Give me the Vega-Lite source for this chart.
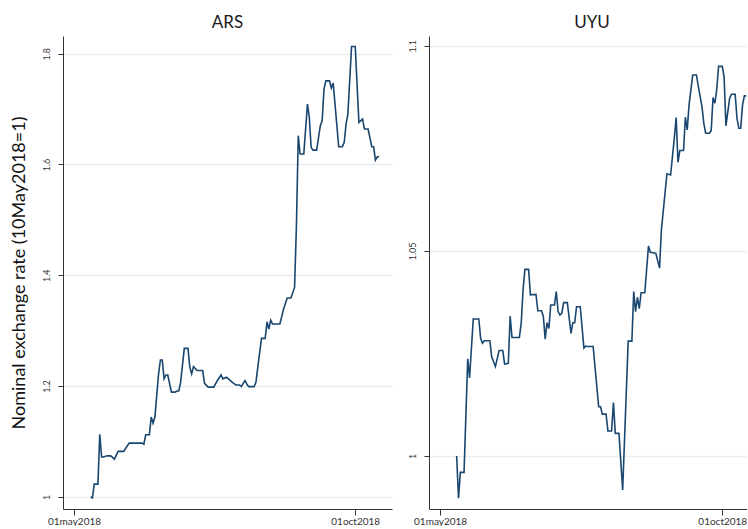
{
  "$schema": "https://vega.github.io/schema/vega-lite/v6.json",
  "padding": {"left": 10, "top": 14, "right": 0, "bottom": 0},
  "spacing": 16,
  "config": {
    "view": {"stroke": null},
    "font": "Lato",
    "title": {"font": "Lato", "fontSize": 17, "fontWeight": "normal", "color": "#1a1a1a", "offset": 4},
    "axis": {
      "labelFont": "Lato",
      "titleFont": "Lato",
      "domainColor": "#333333",
      "tickColor": "#333333",
      "labelColor": "#333333",
      "gridColor": "#e6eff1",
      "gridWidth": 1.5
    }
  },
  "datasets": {
    "ars": [
      {"date": "2018-05-10", "rate": 1.000},
      {"date": "2018-05-11", "rate": 0.998},
      {"date": "2018-05-12", "rate": 1.023},
      {"date": "2018-05-14", "rate": 1.023},
      {"date": "2018-05-15", "rate": 1.113},
      {"date": "2018-05-16", "rate": 1.072},
      {"date": "2018-05-17", "rate": 1.072},
      {"date": "2018-05-19", "rate": 1.074},
      {"date": "2018-05-21", "rate": 1.074},
      {"date": "2018-05-23", "rate": 1.068},
      {"date": "2018-05-25", "rate": 1.082},
      {"date": "2018-05-28", "rate": 1.082},
      {"date": "2018-05-31", "rate": 1.097},
      {"date": "2018-06-04", "rate": 1.097},
      {"date": "2018-06-07", "rate": 1.097},
      {"date": "2018-06-08", "rate": 1.095},
      {"date": "2018-06-09", "rate": 1.112},
      {"date": "2018-06-11", "rate": 1.112},
      {"date": "2018-06-12", "rate": 1.144},
      {"date": "2018-06-13", "rate": 1.133},
      {"date": "2018-06-14", "rate": 1.144},
      {"date": "2018-06-16", "rate": 1.222},
      {"date": "2018-06-17", "rate": 1.247},
      {"date": "2018-06-18", "rate": 1.247},
      {"date": "2018-06-19", "rate": 1.213},
      {"date": "2018-06-20", "rate": 1.220},
      {"date": "2018-06-21", "rate": 1.220},
      {"date": "2018-06-23", "rate": 1.189},
      {"date": "2018-06-25", "rate": 1.189},
      {"date": "2018-06-26", "rate": 1.191},
      {"date": "2018-06-27", "rate": 1.191},
      {"date": "2018-06-28", "rate": 1.207},
      {"date": "2018-06-30", "rate": 1.268},
      {"date": "2018-07-02", "rate": 1.268},
      {"date": "2018-07-03", "rate": 1.234},
      {"date": "2018-07-04", "rate": 1.222},
      {"date": "2018-07-05", "rate": 1.235},
      {"date": "2018-07-07", "rate": 1.228},
      {"date": "2018-07-10", "rate": 1.228},
      {"date": "2018-07-11", "rate": 1.205},
      {"date": "2018-07-13", "rate": 1.198},
      {"date": "2018-07-16", "rate": 1.198},
      {"date": "2018-07-18", "rate": 1.210},
      {"date": "2018-07-20", "rate": 1.220},
      {"date": "2018-07-21", "rate": 1.213},
      {"date": "2018-07-23", "rate": 1.216},
      {"date": "2018-07-24", "rate": 1.213},
      {"date": "2018-07-26", "rate": 1.207},
      {"date": "2018-07-28", "rate": 1.202},
      {"date": "2018-07-30", "rate": 1.202},
      {"date": "2018-07-31", "rate": 1.199},
      {"date": "2018-08-02", "rate": 1.210},
      {"date": "2018-08-03", "rate": 1.204},
      {"date": "2018-08-04", "rate": 1.199},
      {"date": "2018-08-07", "rate": 1.199},
      {"date": "2018-08-08", "rate": 1.207},
      {"date": "2018-08-09", "rate": 1.234},
      {"date": "2018-08-11", "rate": 1.286},
      {"date": "2018-08-13", "rate": 1.286},
      {"date": "2018-08-14", "rate": 1.316},
      {"date": "2018-08-15", "rate": 1.303},
      {"date": "2018-08-16", "rate": 1.319},
      {"date": "2018-08-17", "rate": 1.312},
      {"date": "2018-08-21", "rate": 1.312},
      {"date": "2018-08-23", "rate": 1.339},
      {"date": "2018-08-25", "rate": 1.359},
      {"date": "2018-08-27", "rate": 1.359},
      {"date": "2018-08-29", "rate": 1.378},
      {"date": "2018-08-30", "rate": 1.490},
      {"date": "2018-08-31", "rate": 1.652},
      {"date": "2018-09-01", "rate": 1.619},
      {"date": "2018-09-03", "rate": 1.619},
      {"date": "2018-09-05", "rate": 1.709},
      {"date": "2018-09-06", "rate": 1.685},
      {"date": "2018-09-07", "rate": 1.631},
      {"date": "2018-09-08", "rate": 1.626},
      {"date": "2018-09-10", "rate": 1.626},
      {"date": "2018-09-12", "rate": 1.670},
      {"date": "2018-09-13", "rate": 1.679},
      {"date": "2018-09-14", "rate": 1.736},
      {"date": "2018-09-15", "rate": 1.751},
      {"date": "2018-09-17", "rate": 1.751},
      {"date": "2018-09-18", "rate": 1.738},
      {"date": "2018-09-19", "rate": 1.747},
      {"date": "2018-09-20", "rate": 1.709},
      {"date": "2018-09-22", "rate": 1.632},
      {"date": "2018-09-24", "rate": 1.632},
      {"date": "2018-09-25", "rate": 1.640},
      {"date": "2018-09-26", "rate": 1.673},
      {"date": "2018-09-27", "rate": 1.691},
      {"date": "2018-09-29", "rate": 1.813},
      {"date": "2018-10-01", "rate": 1.813},
      {"date": "2018-10-03", "rate": 1.676},
      {"date": "2018-10-05", "rate": 1.682},
      {"date": "2018-10-06", "rate": 1.664},
      {"date": "2018-10-08", "rate": 1.664},
      {"date": "2018-10-10", "rate": 1.632},
      {"date": "2018-10-11", "rate": 1.632},
      {"date": "2018-10-12", "rate": 1.608},
      {"date": "2018-10-13", "rate": 1.614},
      {"date": "2018-10-14", "rate": 1.614}
    ],
    "uyu": [
      {"date": "2018-05-10", "rate": 1.0000},
      {"date": "2018-05-11", "rate": 0.9897},
      {"date": "2018-05-12", "rate": 0.9960},
      {"date": "2018-05-14", "rate": 0.9960},
      {"date": "2018-05-16", "rate": 1.0237},
      {"date": "2018-05-17", "rate": 1.0190},
      {"date": "2018-05-19", "rate": 1.0334},
      {"date": "2018-05-22", "rate": 1.0334},
      {"date": "2018-05-23", "rate": 1.0287},
      {"date": "2018-05-24", "rate": 1.0275},
      {"date": "2018-05-25", "rate": 1.0281},
      {"date": "2018-05-28", "rate": 1.0281},
      {"date": "2018-05-29", "rate": 1.0242},
      {"date": "2018-05-31", "rate": 1.0218},
      {"date": "2018-06-02", "rate": 1.0257},
      {"date": "2018-06-04", "rate": 1.0257},
      {"date": "2018-06-05", "rate": 1.0224},
      {"date": "2018-06-07", "rate": 1.0226},
      {"date": "2018-06-08", "rate": 1.0341},
      {"date": "2018-06-09", "rate": 1.0289},
      {"date": "2018-06-13", "rate": 1.0289},
      {"date": "2018-06-14", "rate": 1.0324},
      {"date": "2018-06-15", "rate": 1.0405},
      {"date": "2018-06-16", "rate": 1.0455},
      {"date": "2018-06-18", "rate": 1.0455},
      {"date": "2018-06-19", "rate": 1.0393},
      {"date": "2018-06-22", "rate": 1.0394},
      {"date": "2018-06-23", "rate": 1.0354},
      {"date": "2018-06-25", "rate": 1.0354},
      {"date": "2018-06-26", "rate": 1.0340},
      {"date": "2018-06-27", "rate": 1.0285},
      {"date": "2018-06-28", "rate": 1.0325},
      {"date": "2018-06-29", "rate": 1.0311},
      {"date": "2018-06-30", "rate": 1.0368},
      {"date": "2018-07-02", "rate": 1.0368},
      {"date": "2018-07-03", "rate": 1.0401},
      {"date": "2018-07-04", "rate": 1.0352},
      {"date": "2018-07-05", "rate": 1.0344},
      {"date": "2018-07-06", "rate": 1.0348},
      {"date": "2018-07-07", "rate": 1.0374},
      {"date": "2018-07-09", "rate": 1.0374},
      {"date": "2018-07-11", "rate": 1.0299},
      {"date": "2018-07-12", "rate": 1.0325},
      {"date": "2018-07-13", "rate": 1.0325},
      {"date": "2018-07-14", "rate": 1.0364},
      {"date": "2018-07-16", "rate": 1.0364},
      {"date": "2018-07-18", "rate": 1.0263},
      {"date": "2018-07-19", "rate": 1.0268},
      {"date": "2018-07-20", "rate": 1.0267},
      {"date": "2018-07-23", "rate": 1.0267},
      {"date": "2018-07-26", "rate": 1.0120},
      {"date": "2018-07-27", "rate": 1.0120},
      {"date": "2018-07-28", "rate": 1.0102},
      {"date": "2018-07-30", "rate": 1.0102},
      {"date": "2018-07-31", "rate": 1.0061},
      {"date": "2018-08-02", "rate": 1.0061},
      {"date": "2018-08-03", "rate": 1.0130},
      {"date": "2018-08-04", "rate": 1.0055},
      {"date": "2018-08-06", "rate": 1.0055},
      {"date": "2018-08-08", "rate": 0.9917},
      {"date": "2018-08-11", "rate": 1.0280},
      {"date": "2018-08-13", "rate": 1.0280},
      {"date": "2018-08-14", "rate": 1.0401},
      {"date": "2018-08-15", "rate": 1.0352},
      {"date": "2018-08-16", "rate": 1.0387},
      {"date": "2018-08-17", "rate": 1.0359},
      {"date": "2018-08-18", "rate": 1.0398},
      {"date": "2018-08-20", "rate": 1.0398},
      {"date": "2018-08-22", "rate": 1.0512},
      {"date": "2018-08-23", "rate": 1.0496},
      {"date": "2018-08-24", "rate": 1.0496},
      {"date": "2018-08-26", "rate": 1.0494},
      {"date": "2018-08-28", "rate": 1.0458},
      {"date": "2018-08-29", "rate": 1.0551},
      {"date": "2018-09-01", "rate": 1.0688},
      {"date": "2018-09-03", "rate": 1.0685},
      {"date": "2018-09-05", "rate": 1.0775},
      {"date": "2018-09-06", "rate": 1.0825},
      {"date": "2018-09-07", "rate": 1.0716},
      {"date": "2018-09-08", "rate": 1.0745},
      {"date": "2018-09-10", "rate": 1.0745},
      {"date": "2018-09-11", "rate": 1.0826},
      {"date": "2018-09-12", "rate": 1.0795},
      {"date": "2018-09-13", "rate": 1.0856},
      {"date": "2018-09-15", "rate": 1.0929},
      {"date": "2018-09-17", "rate": 1.0929},
      {"date": "2018-09-18", "rate": 1.0902},
      {"date": "2018-09-20", "rate": 1.0852},
      {"date": "2018-09-21", "rate": 1.0811},
      {"date": "2018-09-22", "rate": 1.0787},
      {"date": "2018-09-24", "rate": 1.0787},
      {"date": "2018-09-25", "rate": 1.0793},
      {"date": "2018-09-26", "rate": 1.0874},
      {"date": "2018-09-27", "rate": 1.0860},
      {"date": "2018-09-28", "rate": 1.0893},
      {"date": "2018-09-29", "rate": 1.0950},
      {"date": "2018-10-01", "rate": 1.0950},
      {"date": "2018-10-02", "rate": 1.0925},
      {"date": "2018-10-03", "rate": 1.0805},
      {"date": "2018-10-05", "rate": 1.0872},
      {"date": "2018-10-06", "rate": 1.0882},
      {"date": "2018-10-08", "rate": 1.0882},
      {"date": "2018-10-09", "rate": 1.0823},
      {"date": "2018-10-10", "rate": 1.0799},
      {"date": "2018-10-11", "rate": 1.0799},
      {"date": "2018-10-12", "rate": 1.0856},
      {"date": "2018-10-13", "rate": 1.0878},
      {"date": "2018-10-14", "rate": 1.0878}
    ]
  },
  "hconcat": [
    {
      "title": "ARS",
      "width": 329,
      "height": 473,
      "data": {"name": "ars"},
      "mark": {"type": "line", "color": "#1a476f", "strokeWidth": 1.6, "clip": true},
      "encoding": {
        "x": {
          "field": "date",
          "type": "temporal",
          "scale": {
            "type": "utc",
            "domain": [
              {"year": 2018, "month": 4, "date": 25, "utc": true},
              {"year": 2018, "month": 10, "date": 21, "utc": true}
            ]
          },
          "axis": {
            "title": null,
            "grid": false,
            "values": [
              {"year": 2018, "month": 5, "date": 1, "utc": true},
              {"year": 2018, "month": 10, "date": 1, "utc": true}
            ],
            "labelExpr": "lower(utcFormat(datum.value, '%d%b%Y'))",
            "labelFontSize": 10,
            "tickSize": 6,
            "labelPadding": 1
          }
        },
        "y": {
          "field": "rate",
          "type": "quantitative",
          "scale": {"domain": [0.978, 1.832], "zero": false, "nice": false},
          "axis": {
            "title": "Nominal exchange rate (10May2018=1)",
            "titleFontSize": 18,
            "titleFontWeight": "normal",
            "titleColor": "#111111",
            "titlePadding": 14,
            "values": [1, 1.2, 1.4, 1.6, 1.8],
            "format": "~g",
            "labelAngle": 270,
            "labelFontSize": 9,
            "tickSize": 5,
            "labelPadding": 7
          }
        }
      }
    },
    {
      "title": {"text": "UYU", "dx": 4},
      "width": 318,
      "height": 473,
      "data": {"name": "uyu"},
      "mark": {"type": "line", "color": "#1a476f", "strokeWidth": 1.6, "clip": true},
      "encoding": {
        "x": {
          "field": "date",
          "type": "temporal",
          "scale": {
            "type": "utc",
            "domain": [
              {"year": 2018, "month": 4, "date": 25, "utc": true},
              {"year": 2018, "month": 10, "date": 14, "hours": 10, "utc": true}
            ]
          },
          "axis": {
            "title": null,
            "grid": false,
            "values": [
              {"year": 2018, "month": 5, "date": 1, "utc": true},
              {"year": 2018, "month": 10, "date": 1, "utc": true}
            ],
            "labelExpr": "lower(utcFormat(datum.value, '%d%b%Y'))",
            "labelFontSize": 10,
            "tickSize": 6,
            "labelPadding": 1
          }
        },
        "y": {
          "field": "rate",
          "type": "quantitative",
          "scale": {"domain": [0.98707, 1.1024], "zero": false, "nice": false},
          "axis": {
            "title": null,
            "values": [1, 1.05, 1.1],
            "format": "~g",
            "labelAngle": 270,
            "labelFontSize": 9,
            "tickSize": 5,
            "labelPadding": 7
          }
        }
      }
    }
  ]
}
